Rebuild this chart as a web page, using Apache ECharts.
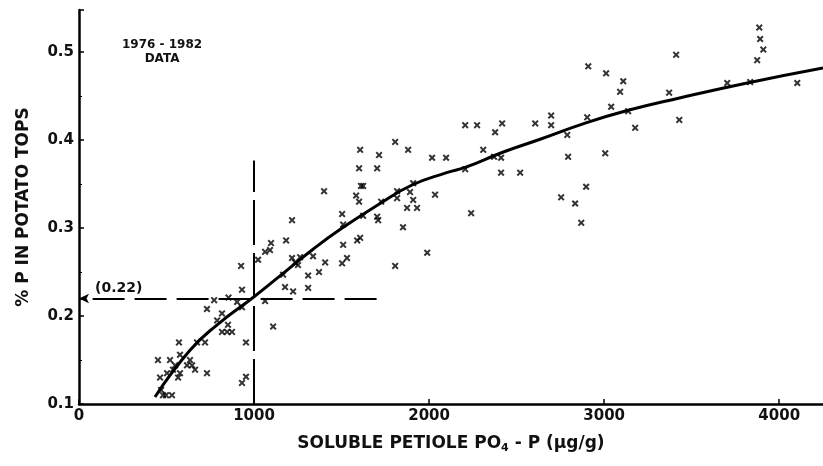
<!DOCTYPE html>
<html>
<head>
<meta charset="utf-8">
<script src="https://cdn.jsdelivr.net/npm/echarts@6/dist/echarts.min.js"></script>
<style>
  html, body { margin: 0; padding: 0; background: #fff; }
  #chart { width: 823px; height: 466px; }
</style>
</head>
<body>
<div id="chart"></div>
<script>
// soluble petiole PO4-P (ug/g) vs % P in potato tops
const observed = [
  [451, 0.150], [463, 0.130], [469, 0.116], [480, 0.110], [497, 0.110], [531, 0.110],
  [503, 0.135], [520, 0.150], [537, 0.139], [549, 0.144], [566, 0.130], [571, 0.170],
  [577, 0.156], [577, 0.135], [617, 0.144], [634, 0.150], [646, 0.144], [663, 0.139],
  [674, 0.170], [720, 0.170], [731, 0.135], [731, 0.208], [772, 0.218], [789, 0.195],
  [817, 0.203], [817, 0.182], [846, 0.182], [854, 0.221], [851, 0.190], [874, 0.182],
  [903, 0.216], [931, 0.230], [931, 0.210], [931, 0.124], [954, 0.131], [954, 0.170],
  [926, 0.257], [1063, 0.217], [1109, 0.188],
  [1023, 0.264], [1063, 0.273], [1091, 0.275], [1097, 0.283], [1183, 0.286], [1217, 0.309],
  [1217, 0.266], [1234, 0.261], [1251, 0.258], [1263, 0.267], [1177, 0.233], [1223, 0.228],
  [1309, 0.232], [1166, 0.247], [1309, 0.246], [1371, 0.250], [1406, 0.261], [1337, 0.268],
  [1400, 0.342], [1503, 0.260], [1531, 0.266], [1509, 0.281], [1589, 0.286], [1606, 0.289],
  [1503, 0.316], [1509, 0.304], [1623, 0.314], [1703, 0.313], [1709, 0.309], [1583, 0.337],
  [1600, 0.330], [1611, 0.348], [1623, 0.348], [1600, 0.368], [1703, 0.368], [1606, 0.389],
  [1714, 0.383], [1806, 0.398], [1880, 0.389], [1726, 0.330], [1817, 0.342], [1817, 0.334],
  [1891, 0.341], [1909, 0.332], [1909, 0.351], [1874, 0.323], [1931, 0.323], [1851, 0.301],
  [1806, 0.257], [1989, 0.272], [2034, 0.338], [2017, 0.380], [2097, 0.380],
  [2206, 0.417], [2274, 0.417], [2417, 0.419], [2377, 0.409], [2309, 0.389], [2371, 0.381],
  [2411, 0.380], [2206, 0.367], [2411, 0.363], [2520, 0.363], [2240, 0.317], [2606, 0.419],
  [2697, 0.428], [2697, 0.417], [2789, 0.406], [2794, 0.381], [2754, 0.335], [2834, 0.328],
  [2869, 0.306], [2897, 0.347], [2903, 0.426], [2909, 0.484], [3011, 0.476], [3109, 0.467],
  [3091, 0.455], [3040, 0.438], [3137, 0.433], [3177, 0.414], [3006, 0.385], [3371, 0.454],
  [3411, 0.497], [3429, 0.423], [3703, 0.465], [3834, 0.466], [3874, 0.491], [3886, 0.528],
  [3891, 0.515], [3909, 0.503], [4103, 0.465]
]

// fitted curve as drawn
const fitted = [
  [434, 0.108], [634, 0.161], [789, 0.190], [1000, 0.222], [1150, 0.246], [1337, 0.276],
  [1503, 0.300], [1720, 0.328], [1903, 0.349], [2100, 0.363], [2206, 0.369], [2417, 0.386],
  [2634, 0.401], [2900, 0.420], [3137, 0.434], [3430, 0.448], [3817, 0.465], [4250, 0.482]
]

const critical = { x: 1000, y: 0.22, yTop: 0.377, xRight: 1700 }
const xTicks = [0, 1000, 2000, 3000, 4000]
const yTicks = [0.1, 0.2, 0.3, 0.4, 0.5]

const font = 'DejaVu Sans'
const crossMark = 'path://M0,2L2,0L5,3L8,0L10,2L7,5L10,8L8,10L5,7L2,10L0,8L3,5Z'

const chart = echarts.init(document.getElementById('chart'))

chart.setOption({
  backgroundColor: '#fff',
  animation: false,
  grid: {
    left: 79,
    right: 0,
    top: 10,
    bottom: 62
  },
  graphic: [{
    type: 'text',
    left: 122,
    top: 38,
    style: {
      text: '1976 - 1982\nDATA',
      textAlign: 'center',
      fontFamily: font,
      fontWeight: 'bold',
      fontSize: 12,
      lineHeight: 14,
      fill: '#111'
    }
  }],
  xAxis: {
    type: 'value',
    min: 0,
    max: 4250,
    interval: 1000,
    name: 'SOLUBLE PETIOLE PO{s|4} - P ({m|μ}g/g)',
    nameLocation: 'middle',
    nameGap: 30,
    nameTextStyle: {
      fontFamily: font,
      fontWeight: 'bold',
      fontSize: 17,
      color: '#111',
      rich: {
        s: { fontFamily: font, fontWeight: 'bold', fontSize: 11, color: '#111', padding: [9, 0, 0, 0] },
        m: { fontFamily: font, fontWeight: 'bold', fontSize: 17, color: '#111' }
      }
    },
    axisLine: { lineStyle: { color: '#000', width: 2.5 } },
    axisTick: { inside: true, length: 5, lineStyle: { color: '#000', width: 1.5 } },
    minorTick: { show: false },
    axisLabel: {
      showMaxLabel: false,
      margin: 5,
      fontFamily: font,
      fontWeight: 'bold',
      fontSize: 15,
      color: '#111',
      formatter: v => xTicks.includes(v) ? String(v) : ''
    },
    splitLine: { show: false }
  },
  yAxis: {
    type: 'value',
    min: 0.1,
    max: 0.548,
    interval: 0.1,
    name: '% P IN POTATO TOPS',
    nameLocation: 'middle',
    nameGap: 47,
    nameTextStyle: {
      fontFamily: font,
      fontWeight: 'bold',
      fontSize: 17,
      color: '#111'
    },
    axisLine: { lineStyle: { color: '#000', width: 2.5 } },
    axisTick: { inside: true, length: 5, lineStyle: { color: '#000', width: 1.5 } },
    minorTick: { show: true, splitNumber: 2, length: 3, lineStyle: { color: '#000' } },
    axisLabel: {
      showMaxLabel: false,
      margin: 5,
      fontFamily: font,
      fontWeight: 'bold',
      fontSize: 15,
      color: '#111',
      formatter: v => yTicks.some(t => Math.abs(t - v) < 1e-6) ? v.toFixed(1) : ''
    },
    splitLine: { show: false }
  },
  series: [
    {
      type: 'scatter',
      data: observed,
      symbol: crossMark,
      symbolSize: 7,
      itemStyle: { color: '#000' },
      z: 3
    },
    {
      type: 'line',
      data: fitted,
      smooth: true,
      showSymbol: false,
      lineStyle: { color: '#000', width: 3 },
      z: 2,
      markLine: {
        silent: true,
        symbol: 'none',
        animation: false,
        lineStyle: { color: '#000', width: 2, type: [32, 10] },
        data: [
          [
            { coord: [critical.x, 0.1], label: { show: false }, lineStyle: { type: [45, 8] } },
            { coord: [critical.x, critical.yTop] }
          ],
          [
            {
              coord: [critical.xRight, critical.y],
              symbol: 'none',
              label: {
                show: true,
                formatter: '(0.22)',
                position: 'insideEndTop',
                distance: [16, 3],
                fontFamily: font,
                fontWeight: 'bold',
                fontSize: 14,
                color: '#111'
              }
            },
            { coord: [0, critical.y], symbol: 'arrow', symbolSize: [7, 10] }
          ]
        ]
      }
    }
  ]
})
</script>
</body>
</html>
